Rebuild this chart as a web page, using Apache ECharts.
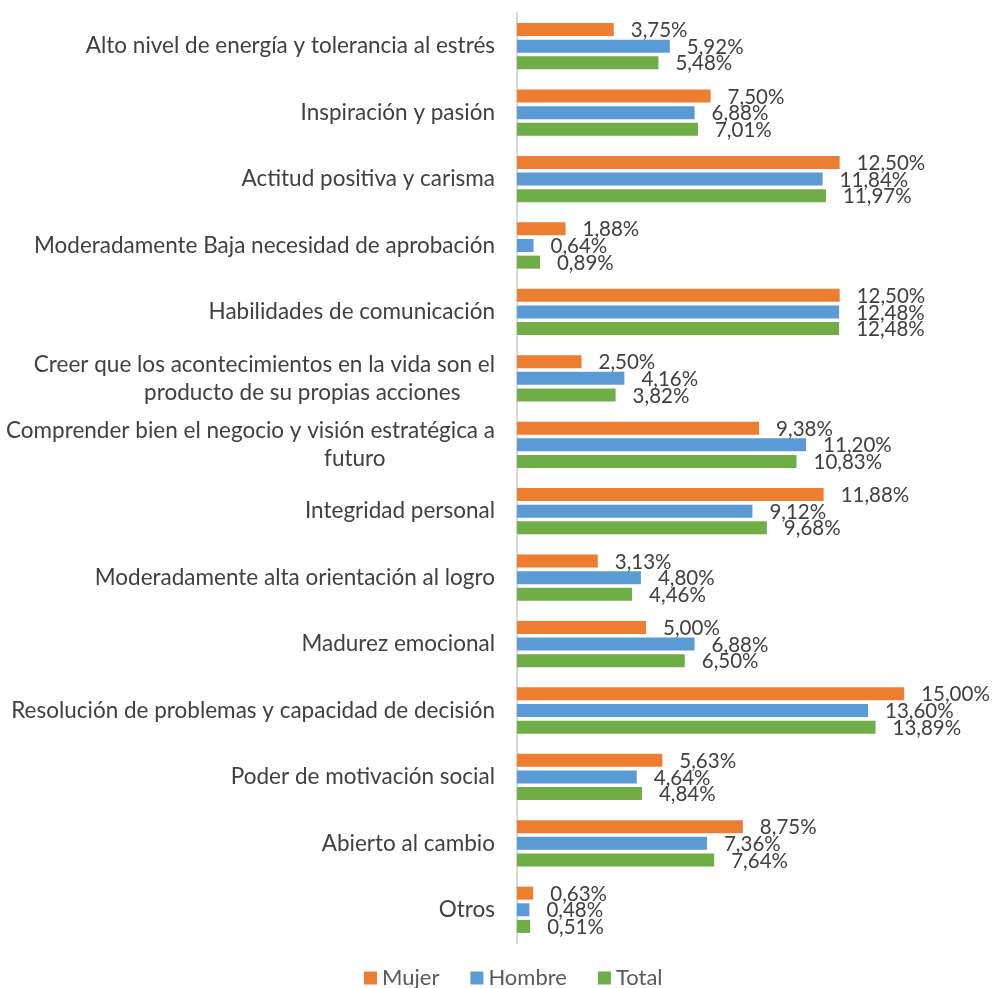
<!DOCTYPE html>
<html>
<head>
<meta charset="utf-8">
<script src="https://cdn.jsdelivr.net/npm/echarts@6/dist/echarts.min.js"></script>
<style>
  html, body { margin: 0; padding: 0; background: #ffffff; }
  #chart { width: 995px; height: 988px; }
</style>
</head>
<body>
<div id="chart"></div>
<script>
// Categories listed top to bottom
const categories = [
  'Alto nivel de energía y tolerancia al estrés',
  'Inspiración y pasión',
  'Actitud positiva y carisma',
  'Moderadamente Baja necesidad de aprobación',
  'Habilidades de comunicación',
  'Creer que los acontecimientos en la vida son el\nproducto de su propias acciones',
  'Comprender bien el negocio y visión estratégica a\nfuturo',
  'Integridad personal',
  'Moderadamente alta orientación al logro',
  'Madurez emocional',
  'Resolución de problemas y capacidad de decisión',
  'Poder de motivación social',
  'Abierto al cambio',
  'Otros'
];

// Percent values per series
const mujer  = [3.75, 7.50, 12.50, 1.88, 12.50, 2.50, 9.38, 11.88, 3.13, 5.00, 15.00, 5.63, 8.75, 0.63];
const hombre = [5.92, 6.88, 11.84, 0.64, 12.48, 4.16, 11.20, 9.12, 4.80, 6.88, 13.60, 4.64, 7.36, 0.48];
const total  = [5.48, 7.01, 11.97, 0.89, 12.48, 3.82, 10.83, 9.68, 4.46, 6.50, 13.89, 4.84, 7.64, 0.51];

const seriesNames = ['Mujer', 'Hombre', 'Total'];
const seriesColors = ['#ED7D31', '#5B9BD5', '#70AD47'];

const FONT = 'Lato, "Open Sans", sans-serif';
const CAT_SIZE = 22.5;

const fmt = v => v.toFixed(2).replace('.', ',') + '%';

// Wrapped category labels are right-aligned line by line; shorter lines get
// trailing no-break spaces so they sit roughly centred under the longest line.
const measureCtx = document.createElement('canvas').getContext('2d');
measureCtx.font = CAT_SIZE + 'px ' + FONT;
const NBSP = '\u00A0';
const nbspW = measureCtx.measureText(NBSP.repeat(10)).width / 10;
function categoryLabel(value) {
  const lines = value.split('\n');
  if (lines.length === 1) return value;
  const widths = lines.map(l => measureCtx.measureText(l).width);
  const maxW = Math.max(...widths);
  return lines.map((l, i) =>
    l + NBSP.repeat(Math.max(0, Math.round((maxW - widths[i]) / 4 / nbspW)))
  ).join('\n');
}

function makeSeries(name, data, color) {
  return {
    name: name,
    type: 'bar',
    data: data,
    barWidth: 13,
    barGap: '28%',
    itemStyle: { color: color },
    label: {
      show: true,
      position: 'right',
      distance: 17,
      offset: [0, 1],
      formatter: p => fmt(p.value),
      color: '#404040',
      fontFamily: FONT,
      fontSize: 20.5
    },
    emphasis: { disabled: true }
  };
}

const chart = echarts.init(document.getElementById('chart'), null, { renderer: 'canvas' });
chart.setOption({
  animation: false,
  backgroundColor: '#ffffff',
  grid: { left: 517, right: 65, top: 13, bottom: 45, containLabel: false },
  xAxis: {
    type: 'value',
    min: 0,
    max: 16,
    show: false
  },
  yAxis: {
    type: 'category',
    inverse: true,
    data: categories,
    axisLine: { show: true, lineStyle: { color: '#D9D9D9', width: 2 } },
    axisTick: { show: false },
    axisLabel: {
      margin: 22,
      color: '#404040',
      fontFamily: FONT,
      fontSize: CAT_SIZE,
      lineHeight: 28,
      align: 'right',
      formatter: categoryLabel
    }
  },
  legend: {
    bottom: -6,
    left: 359,
    itemWidth: 13,
    itemHeight: 13,
    itemGap: 31,
    icon: 'rect',
    data: seriesNames,
    textStyle: { color: '#595959', fontFamily: FONT, fontSize: 22 }
  },
  series: [
    makeSeries(seriesNames[0], mujer, seriesColors[0]),
    makeSeries(seriesNames[1], hombre, seriesColors[1]),
    makeSeries(seriesNames[2], total, seriesColors[2])
  ]
});
</script>
</body>
</html>
